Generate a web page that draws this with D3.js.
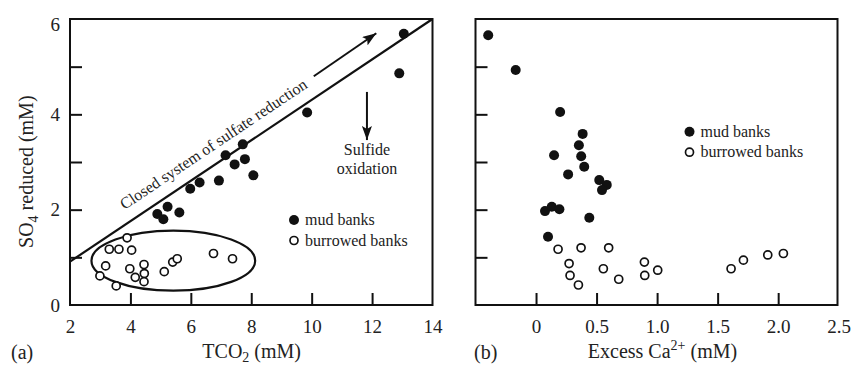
<!DOCTYPE html>
<html><head><meta charset="utf-8">
<script src="https://cdn.jsdelivr.net/npm/d3@7"></script>
<style>
html,body{margin:0;padding:0;background:#fff;}
svg{display:block;font-family:"Liberation Serif","Times New Roman",serif;}
</style></head>
<body><svg id="c" width="852" height="366"></svg>
<script>
// ---- data ----
const mudA_TCO2 = [13.05,12.9,9.85,7.72,7.15,7.79,7.45,8.07,6.93,6.29,5.98,5.23,5.62,4.89,5.09];
const mudA_SO4  = [5.69,4.86,4.04,3.37,3.14,3.06,2.95,2.72,2.61,2.57,2.44,2.06,1.94,1.91,1.80];
const burA_TCO2 = [3.89,3.30,3.62,4.04,3.18,2.99,3.53,3.98,4.16,4.45,4.46,4.45,5.12,5.40,5.55,6.75,7.38];
const burA_SO4  = [1.41,1.17,1.17,1.15,0.82,0.61,0.40,0.76,0.58,0.85,0.66,0.49,0.70,0.90,0.97,1.08,0.97];
const mudB_Ca   = [-0.395,-0.168,0.199,0.385,0.354,0.149,0.373,0.398,0.265,0.522,0.584,0.545,0.074,0.130,0.193,0.440,0.099];
const mudB_SO4  = [5.66,4.93,4.05,3.59,3.35,3.14,3.12,2.90,2.74,2.62,2.52,2.41,1.97,2.06,2.01,1.83,1.43];
const burB_Ca   = [0.182,0.372,0.600,0.273,0.281,0.350,0.556,0.683,0.895,0.898,1.005,1.611,1.713,1.914,2.043];
const burB_SO4  = [1.17,1.20,1.20,0.87,0.62,0.42,0.76,0.54,0.90,0.62,0.73,0.76,0.94,1.05,1.08];
const closedLine = [[2,0.91],[14,6]];
const ellipseA = {cx:5.42, cy:0.93, rx:2.71, ry:0.63};
const xTicksA = [2,4,6,8,10,12,14];
const xTickMarksA = [4,6,8,10,12];
const yTicksLabels = [0,2,4,6];
const yTickMarks = [1,2,3,4,5];
const xTicksB = [0,0.5,1.0,1.5,2.0,2.5];
const xTickMarksB = [0,0.5,1.0,1.5,2.0];
const legendLabels = ["mud banks","burrowed banks"];
const lineText = "Closed system of sulfate reduction";
const arrowUp = [[10.07,4.80],[12.14,5.70]];
const arrowDown = [[11.83,4.47],[11.83,3.46]];
const oxLabel = ["Sulfide","oxidation"];

// ---- layout ----
const svg = d3.select("#c");
const yS = d3.scaleLinear().domain([0,6]).range([305,19]);
const xA = d3.scaleLinear().domain([2,14]).range([70,432.5]);
const xB = d3.scaleLinear().domain([-0.5,2.49]).range([475.5,837.5]);

svg.append("defs").append("marker")
  .attr("id","ah").attr("viewBox","0 0 14 10").attr("refX",14).attr("refY",5)
  .attr("markerWidth",14).attr("markerHeight",10).attr("markerUnits","userSpaceOnUse")
  .attr("orient","auto")
  .append("path").attr("d","M0,0 L14,5 L0,10 L3,5 Z").attr("fill","#111");

function panel(x, xLabels, xMarks, xFmt, showYLabels){
  const g = svg.append("g");
  const [x0,x1]=x.range();
  g.append("g").attr("transform",`translate(0,305)`)
    .call(d3.axisBottom(x).tickValues(xMarks).tickSizeInner(-12).tickSizeOuter(0).tickFormat(""))
    .call(a=>a.select(".domain").remove())
    .call(a=>a.selectAll("line").attr("stroke","#111").attr("stroke-width",2));
  g.append("g").attr("transform",`translate(0,305)`)
    .call(d3.axisBottom(x).tickValues(xLabels).tickSize(0).tickPadding(14.5).tickFormat(xFmt))
    .call(a=>a.select(".domain").remove())
    .call(a=>a.selectAll("text").attr("font-size",19).attr("fill","#222").attr("font-family","Liberation Serif"));
  g.append("g").attr("transform",`translate(${x0},0)`)
    .call(d3.axisLeft(yS).tickValues(yTickMarks).tickSizeInner(-12).tickSizeOuter(0).tickFormat(""))
    .call(a=>a.select(".domain").remove())
    .call(a=>a.selectAll("line").attr("stroke","#111").attr("stroke-width",2));
  if(showYLabels){
    g.append("g").attr("transform",`translate(${x0},0)`)
      .call(d3.axisLeft(yS).tickValues(yTicksLabels).tickSize(0).tickPadding(10).tickFormat(d3.format("d")))
      .call(a=>a.select(".domain").remove())
      .call(a=>a.selectAll("text").attr("font-size",19).attr("fill","#222").attr("font-family","Liberation Serif")
        .attr("dy",d=> d===6 ? "0.62em" : "0.32em"));
  }
  g.append("rect").attr("x",x0).attr("y",yS(6)).attr("width",x1-x0).attr("height",yS(0)-yS(6))
    .attr("fill","none").attr("stroke","#111").attr("stroke-width",2);
  return g;
}

const gA = panel(xA, xTicksA, xTickMarksA, d3.format("d"), true);
const gB = panel(xB, xTicksB, xTickMarksB, d=> d===0 ? "0" : d3.format(".1f")(d), false);

// panel A extras
gA.append("line").attr("x1",xA(closedLine[0][0])).attr("y1",yS(closedLine[0][1]))
  .attr("x2",xA(closedLine[1][0])).attr("y2",yS(closedLine[1][1]))
  .attr("stroke","#111").attr("stroke-width",2.2);
gA.append("ellipse").attr("cx",xA(ellipseA.cx)).attr("cy",yS(ellipseA.cy))
  .attr("rx",xA(ellipseA.cx+ellipseA.rx)-xA(ellipseA.cx)).attr("ry",yS(ellipseA.cy)-yS(ellipseA.cy+ellipseA.ry))
  .attr("fill","none").attr("stroke","#111").attr("stroke-width",2.2);
{
  const ang = Math.atan2(yS(closedLine[1][1])-yS(closedLine[0][1]), xA(closedLine[1][0])-xA(closedLine[0][0]))*180/Math.PI;
  const tx = 7.08;
  const ty = closedLine[0][1] + (tx-closedLine[0][0])*(closedLine[1][1]-closedLine[0][1])/(closedLine[1][0]-closedLine[0][0]);
  gA.append("text").attr("transform",`translate(${xA(tx)},${yS(ty)}) rotate(${ang})`)
    .attr("y",-12.5).attr("text-anchor","middle").attr("font-size",16).attr("fill","#222").text(lineText);
}
[arrowUp,arrowDown].forEach(a=>{
  gA.append("line").attr("x1",xA(a[0][0])).attr("y1",yS(a[0][1])).attr("x2",xA(a[1][0])).attr("y2",yS(a[1][1]))
    .attr("stroke","#111").attr("stroke-width",2).attr("marker-end","url(#ah)");
});
gA.selectAll("text.ox").data(oxLabel).join("text").attr("class","ox")
  .attr("x",xA(11.83)).attr("y",(d,i)=>155+i*18.5).attr("text-anchor","middle")
  .attr("font-size",16).attr("fill","#222").text(d=>d);

function points(g,x,xs,ys,filled){
  g.selectAll(null).data(xs.map((v,i)=>[v,ys[i]])).join("circle")
    .attr("cx",d=>x(d[0])).attr("cy",d=>yS(d[1])).attr("r",filled?5:4)
    .attr("fill",filled?"#111":"#fff").attr("stroke","#111").attr("stroke-width",filled?0:1.7);
}
points(gA,xA,burA_TCO2,burA_SO4,false);
points(gA,xA,mudA_TCO2,mudA_SO4,true);
points(gB,xB,burB_Ca,burB_SO4,false);
points(gB,xB,mudB_Ca,mudB_SO4,true);

function legend(g,cx,cy){
  legendLabels.forEach((t,i)=>{
    const y = cy + i*20.5;
    g.append("circle").attr("cx",cx).attr("cy",y).attr("r",i===0?5:4)
      .attr("fill",i===0?"#111":"#fff").attr("stroke","#111").attr("stroke-width",i===0?0:1.7);
    g.append("text").attr("x",cx+11).attr("y",y+5).attr("font-size",16).attr("fill","#222").text(t);
  });
}
legend(gA,294,220);
legend(gB,689.5,131.7);

// axis titles
const tA = svg.append("text").attr("x",251.7).attr("y",358).attr("text-anchor","middle").attr("font-size",20).attr("fill","#222");
tA.append("tspan").text("TCO");
tA.append("tspan").attr("font-size",14).attr("dy",4).text("2");
tA.append("tspan").attr("dy",-4).text(" (mM)");
const tB = svg.append("text").attr("x",662.5).attr("y",358).attr("text-anchor","middle").attr("font-size",20).attr("fill","#222");
tB.append("tspan").text("Excess Ca");
tB.append("tspan").attr("font-size",14).attr("dy",-8).text("2+");
tB.append("tspan").attr("dy",8).text(" (mM)");
const tY = svg.append("text").attr("transform","translate(33,171.7) rotate(-90)").attr("text-anchor","middle").attr("font-size",20).attr("fill","#222");
tY.append("tspan").text("SO");
tY.append("tspan").attr("font-size",14).attr("dy",5).text("4");
tY.append("tspan").attr("dy",-5).text(" reduced (mM)");
svg.append("text").attr("x",11).attr("y",359).attr("font-size",20).attr("fill","#222").text("(a)");
svg.append("text").attr("x",474).attr("y",359).attr("font-size",20).attr("fill","#222").text("(b)");
</script></body></html>
